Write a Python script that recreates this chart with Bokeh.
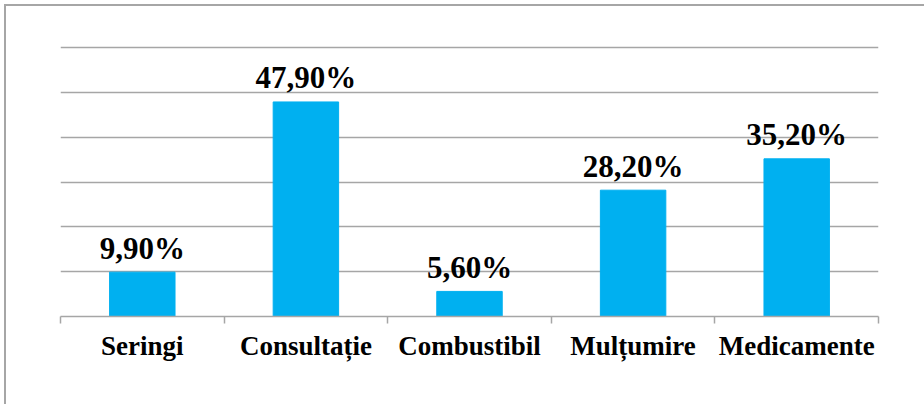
from bokeh.plotting import figure
from bokeh.models import ColumnDataSource, FixedTicker, Range1d, Label
from bokeh.embed import file_html
from bokeh.resources import INLINE

categories = ["Seringi", "Consultație", "Combustibil", "Mulțumire", "Medicamente"]
values = [9.9, 47.9, 5.6, 28.2, 35.2]
grid_ticks = [10, 20, 30, 40, 50, 60]

xs = [i + 0.5 for i in range(len(categories))]
labels = [f"{v:.2f}".replace(".", ",") + "%" for v in values]
src = ColumnDataSource(dict(x=xs, top=values, label=labels))

GRAY = "#A6A6A6"
FONT = "'Liberation Serif', 'Times New Roman', serif"

p = figure(width=920, height=400, output_backend="svg", toolbar_location=None,
           x_range=Range1d(0, len(categories)), y_range=Range1d(0, 60.5),
           min_border_left=56, min_border_right=46, min_border_top=41, min_border_bottom=88)
p.outline_line_color = None
p.background_fill_color = "white"
p.border_fill_color = None
p.styles = {"margin": "4px 0 0 4px", "box-shadow": "inset 2px 2px 0 0 #A6A6A6"}

p.vbar(x="x", top="top", width=0.4, bottom=0, source=src, color="#00B0F0")
for x, v, lab in zip(xs, values, labels):
    p.add_layout(Label(x=x, y=v, text=lab, text_align="center",
                       text_baseline="alphabetic", y_offset=24, text_font=FONT,
                       text_font_style="bold", text_font_size="31px", text_color="black"))

p.yaxis.visible = False
p.xgrid.visible = False
p.ygrid.ticker = FixedTicker(ticks=grid_ticks)
p.ygrid.grid_line_color = GRAY
p.ygrid.grid_line_width = 1.5

ax = p.xaxis[0]
ax.ticker = FixedTicker(ticks=xs, minor_ticks=list(range(len(categories) + 1)))
ax.major_label_overrides = {x: c for x, c in zip(xs, categories)}
ax.major_tick_out = 0
ax.major_tick_in = 0
ax.minor_tick_out = 7
ax.minor_tick_in = 0
ax.minor_tick_line_color = GRAY
ax.minor_tick_line_width = 1.5
ax.axis_line_color = GRAY
ax.axis_line_width = 1.5
ax.major_label_text_font = FONT
ax.major_label_text_font_style = "bold"
ax.major_label_text_font_size = "27px"
ax.major_label_text_color = "black"
ax.major_label_standoff = 7

open("out.html", "w").write(file_html(p, INLINE))
